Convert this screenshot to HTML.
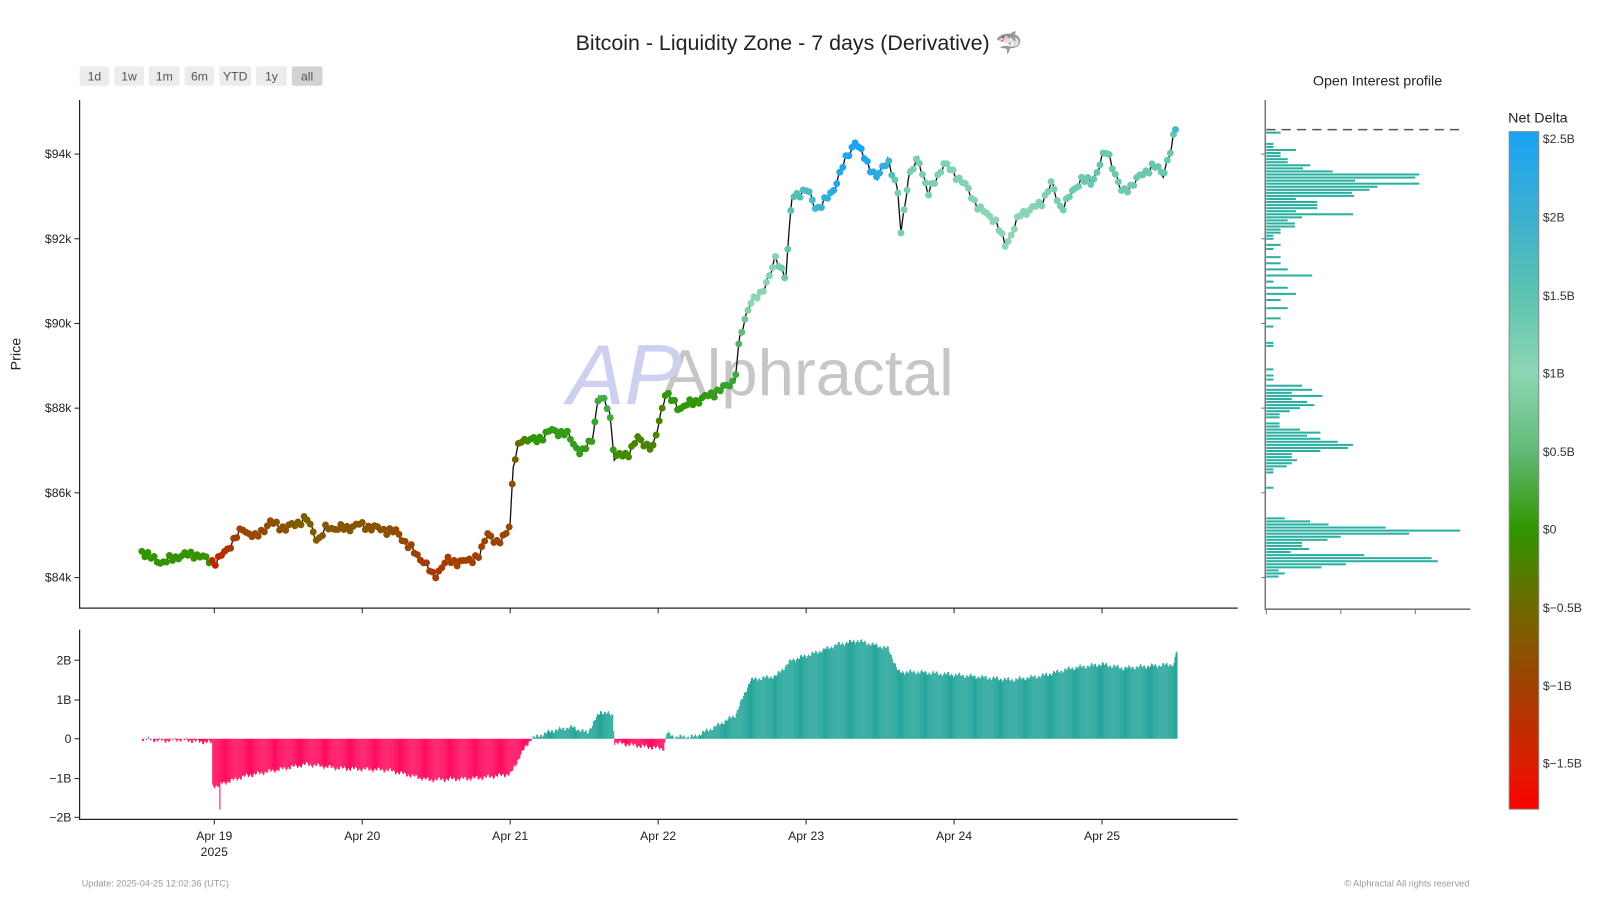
<!DOCTYPE html>
<html><head><meta charset="utf-8"><style>
body{margin:0;background:#fff;font-family:"Liberation Sans",sans-serif;overflow:hidden;}
svg text{font-family:"Liberation Sans","DejaVu Sans",sans-serif;}
</style></head><body>
<svg id="s" width="1600" height="900" xmlns="http://www.w3.org/2000/svg">
<defs><linearGradient id="cb" x1="0" y1="0" x2="0" y2="1">
<stop offset="0" stop-color="#1aa3f5"/><stop offset="0.125" stop-color="#3bb0d0"/><stop offset="0.24" stop-color="#5cc3b0"/><stop offset="0.356" stop-color="#8ed6b4"/><stop offset="0.47" stop-color="#62bb78"/><stop offset="0.587" stop-color="#2f9600"/><stop offset="0.70" stop-color="#6e6a00"/><stop offset="0.818" stop-color="#a04000"/><stop offset="0.93" stop-color="#d82000"/><stop offset="1" stop-color="#ff0000"/></linearGradient></defs>
<g transform="scale(1.0204)">
<text x="783" y="49" font-size="21" text-anchor="middle" fill="#222">Bitcoin - Liquidity Zone - 7 days (Derivative) 🦈</text>
<g font-size="12" fill="#555" text-anchor="middle">
<rect x="78" y="65" width="29" height="19" rx="2" fill="#ececec"/><text x="92.5" y="79">1d</text>
<rect x="112" y="65" width="29" height="19" rx="2" fill="#ececec"/><text x="126.5" y="79">1w</text>
<rect x="146" y="65" width="30" height="19" rx="2" fill="#ececec"/><text x="161" y="79">1m</text>
<rect x="181" y="65" width="29" height="19" rx="2" fill="#ececec"/><text x="195.5" y="79">6m</text>
<rect x="215" y="65" width="31" height="19" rx="2" fill="#ececec"/><text x="230.5" y="79">YTD</text>
<rect x="251" y="65" width="30" height="19" rx="2" fill="#ececec"/><text x="266" y="79">1y</text>
<rect x="286" y="65" width="30" height="19" rx="2" fill="#d2d2d2"/><text x="301" y="79">all</text>
</g>
<text x="650" y="387" font-size="64" fill="#c6c6c6">Alphractal</text>
<text x="556" y="396" font-size="84" font-style="italic" fill="#cdd0ee">AP</text>
<text transform="translate(20,347) rotate(-90)" font-size="14" text-anchor="middle" fill="#222">Price</text>
<g stroke="#222" stroke-width="1.2" fill="none">
<path d="M78 98V596H1213"/><path d="M78 617V803H1213"/>
</g>
<g id="ticks" font-size="12" fill="#222"></g>
<g id="bars"></g><g id="line"></g><g id="dots"></g>
<text x="1350" y="84" font-size="14" text-anchor="middle" fill="#222">Open Interest profile</text>
<g id="oi"></g>
<path d="M1241 127H1430" stroke="#555" stroke-width="1.5" stroke-dasharray="9,6"/>
<g stroke="#777" stroke-width="1.5" fill="none"><path d="M1240 98V597H1441"/></g>
<text x="1478" y="120" font-size="14" fill="#222">Net Delta</text>
<rect x="1479" y="129" width="29" height="664" fill="url(#cb)" stroke="#888"/>
<g font-size="12" fill="#333">
<text x="1512" y="140">$2.5B</text><text x="1512" y="217">$2B</text><text x="1512" y="294">$1.5B</text><text x="1512" y="370">$1B</text><text x="1512" y="447">$0.5B</text><text x="1512" y="523">$0</text><text x="1512" y="600">$−0.5B</text><text x="1512" y="676">$−1B</text><text x="1512" y="752">$−1.5B</text>
</g>
<text x="80" y="869" font-size="9" fill="#999">Update: 2025-04-25 12:02:36 (UTC)</text>
<text x="1440" y="869" font-size="9" fill="#999" text-anchor="end">© Alphractal All rights reserved</text>
</g>
</svg>
<script>
const NS="http://www.w3.org/2000/svg";
function el(p,t,a){const e=document.createElementNS(NS,t);for(const k in a)e.setAttribute(k,a[k]);p.appendChild(e);return e;}
function interp(pts,x){for(let i=1;i<pts.length;i++){if(x<=pts[i][0]){const a=pts[i-1],b=pts[i];const t=b[0]===a[0]?1:(x-a[0])/(b[0]-a[0]);return a[1]+(b[1]-a[1])*t;}}return pts[pts.length-1][1];}
const T=document.getElementById('ticks');
[[151,'$94k'],[234,'$92k'],[317,'$90k'],[400,'$88k'],[483,'$86k'],[566,'$84k']].forEach(([y,l])=>{el(T,'line',{x1:73,x2:78,y1:y,y2:y,stroke:'#222'});const t=el(T,'text',{x:70,y:y+4,'text-anchor':'end'});t.textContent=l;
 el(T,'line',{x1:1236,x2:1240,y1:y,y2:y,stroke:'#777'});});
[[647,'2B'],[686,'1B'],[724,'0'],[763,'−1B'],[801,'−2B']].forEach(([y,l])=>{el(T,'line',{x1:73,x2:78,y1:y,y2:y,stroke:'#222'});const t=el(T,'text',{x:70,y:y+4,'text-anchor':'end'});t.textContent=l;});
['Apr 19','Apr 20','Apr 21','Apr 22','Apr 23','Apr 24','Apr 25'].forEach((l,i)=>{const x=210+145*i;el(T,'line',{x1:x,x2:x,y1:596,y2:601,stroke:'#222'});el(T,'line',{x1:x,x2:x,y1:803,y2:808,stroke:'#222'});const t=el(T,'text',{x:x,y:823,'text-anchor':'middle'});t.textContent=l;});
{const t=el(T,'text',{x:210,y:839,'text-anchor':'middle'});t.textContent='2025';}
[1241,1314,1387].forEach(x=>el(T,'line',{x1:x,x2:x,y1:597,y2:602,stroke:'#777'}));
const P=[[139,540],[150,548],[160,551],[175,545],[190,543],[205,549],[212,551],[225,535],[238,518],[250,527],[265,512],[280,518],[300,508],[312,530],[320,517],[340,518],[350,514],[370,518],[390,522],[400,535],[415,550],[425,565],[440,548],[450,552],[470,545],[478,521],[488,535],[500,513],[503,458],[510,430],[525,432],[540,422],[555,425],[570,445],[580,430],[587,388],[597,400],[602,448],[615,445],[625,430],[640,440],[652,385],[665,400],[690,390],[710,380],[720,372],[725,333],[735,295],[745,290],[760,255],[770,270],[776,195],[790,185],[800,205],[815,190],[825,165],[838,138],[850,160],[860,175],[870,155],[880,190],[883,228],[890,175],[900,155],[910,190],[925,160],[945,180],[960,205],[975,215],[985,240],[990,232],[1000,210],[1020,200],[1030,180],[1040,205],[1060,175],[1070,180],[1080,155],[1085,148],[1100,190],[1115,175],[1130,162],[1140,170],[1148,145],[1152,127]];
const D=[[139,0],[160,-0.05],[175,-0.02],[207,-0.1],[208,-1.2],[214,-1.2],[215,-1.8],[216,-1.15],[240,-0.95],[300,-0.65],[330,-0.75],[380,-0.8],[420,-1.05],[470,-1.0],[500,-0.9],[510,-0.4],[520,0],[540,0.2],[560,0.3],[575,0.15],[588,0.7],[600,0.6],[602,-0.1],[630,-0.2],[650,-0.25],[653,0.15],[660,0.05],[680,0.05],[700,0.3],[720,0.6],[735,1.5],[760,1.6],[775,2.0],[800,2.2],[820,2.4],[840,2.5],[870,2.3],[880,1.7],[900,1.7],[950,1.6],[990,1.5],[1020,1.6],[1050,1.8],[1080,1.9],[1100,1.8],[1150,1.9],[1152,2.2]];
const CS=[[-1.8,[255,0,0]],[-1.25,[200,30,0]],[-1,[160,64,0]],[-0.5,[110,106,0]],[0,[47,150,0]],[0.5,[56,160,48]],[1,[98,187,120]],[1.5,[142,214,180]],[2,[92,195,176]],[2.5,[26,163,245]]];
function col(v){for(let i=1;i<CS.length;i++){if(v<=CS[i][0]){const a=CS[i-1],b=CS[i];const t=Math.max(0,(v-a[0])/(b[0]-a[0]));return 'rgb('+a[1].map((c,j)=>Math.round(c+(b[1][j]-c)*t)).join(',')+')';}}return 'rgb(26,163,245)';}
function dsm(x){return interp(D,x)+0.04*Math.sin(x*1.7)+0.03*Math.sin(x*0.53);}
const B=document.getElementById('bars');
for(let x=139;x<=1153;x++){const v=x===215?-1.8:dsm(x);const y=724-v*38.5;el(B,'rect',{x:x,y:Math.min(y,724),width:1,height:Math.abs(724-y),fill:v<0?'#ff0a5e':'#26a69a'});}
let pts=[],dots=[];
for(let x=139;x<=1152;x+=1){const y=interp(P,x)+2.5*Math.sin(x*0.9)+1.8*Math.sin(x*0.37);pts.push(x+','+y.toFixed(1));if((x-139)%3===0)dots.push([x,y]);}
dots.push([1152,127]);
const dg=document.getElementById('dots');
dots.forEach(([x,y])=>el(dg,'circle',{cx:x,cy:y,r:3.4,fill:col(interp(D,x))}));
el(document.getElementById('line'),'polyline',{points:pts.join(' '),fill:'none',stroke:'#111','stroke-width':1.3});
const OI=[[130,14],[141,7],[144,7],[147,29],[150,14],[153,14],[156,21],[159,21],[162,43],[165,36],[168,65],[171,150],[174,146],[177,87],[180,150],[183,109],[186,101],[189,84],[192,86],[195,29],[198,50],[201,50],[204,50],[207,29],[210,85],[213,35],[216,21],[219,28],[222,28],[225,14],[228,14],[231,7],[234,7],[240,14],[244,7],[252,14],[258,14],[264,21],[270,45],[276,7],[282,21],[288,29],[294,14],[302,21],[312,14],[320,7],[336,7],[339,7],[362,7],[368,7],[372,7],[378,35],[382,45],[385,25],[388,55],[391,25],[394,40],[397,47],[400,33],[403,23],[406,13],[409,13],[415,13],[418,13],[421,33],[424,53],[427,40],[430,53],[433,70],[436,85],[439,80],[442,53],[445,25],[448,25],[451,30],[454,25],[457,20],[460,7],[463,7],[478,7],[508,18],[511,43],[514,61],[517,117],[520,190],[523,140],[526,73],[529,60],[532,35],[535,35],[538,42],[541,24],[544,96],[547,162],[550,168],[553,78],[556,54],[559,12],[562,18],[565,12]];
const og=document.getElementById('oi');
OI.forEach(([y,l])=>el(og,'rect',{x:1241,y:y-1,width:l,height:2,fill:'#2ab0a0'}));
</script>
</body></html>
